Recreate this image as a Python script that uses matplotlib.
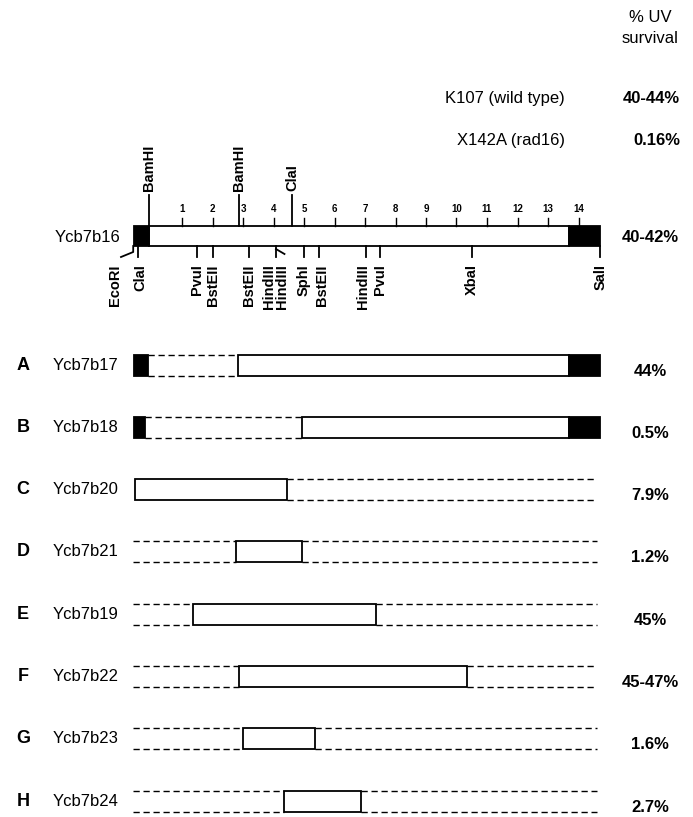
import matplotlib
matplotlib.use("Agg")
import matplotlib.pyplot as plt
from matplotlib.patches import Rectangle

plt.rcParams["font.family"] = ["Liberation Sans", "DejaVu Sans"]

# --- data -------------------------------------------------------------------
SCALE_KB = list(range(1, 15))

SITES_ABOVE = ["BamHI", "BamHI", "ClaI"]
SITES_ABOVE_KB = [-0.07, 2.87, 4.61]

SITES_BELOW = ["EcoRI", "ClaI", "PvuI", "BstEII", "BstEII", "HindIII", "HindIII",
               "SphI", "BstEII", "HindIII", "PvuI", "XbaI", "SalI"]
SITES_BELOW_KB = [-0.6, -0.44, 1.5, 2.0, 3.2, 4.08, 4.08,
                  5.0, 5.49, 7.03, 7.49, 10.5, 14.72]

VECTOR_LEFT = (-0.57, -0.07)
VECTOR_RIGHT = (13.69, 14.72)

LETTERS = ["A", "B", "C", "D", "E", "F", "G", "H"]
NAMES = ["Ycb7b17", "Ycb7b18", "Ycb7b20", "Ycb7b21",
         "Ycb7b19", "Ycb7b22", "Ycb7b23", "Ycb7b24"]
INSERT_START = [2.84, 4.93, -0.54, 2.77, 1.36, 2.87, 3.0, 4.34]
INSERT_END = [13.69, 13.69, 4.44, 4.93, 7.36, 10.34, 5.36, 6.87]
VECTOR_LEFT_END = [-0.1, -0.2, None, None, None, None, None, None]
SURVIVAL = ["44%", "0.5%", "7.9%", "1.2%", "45%", "45-47%", "1.6%", "2.7%"]

STRAINS = ["K107 (wild type)", "X142A (rad16)"]
STRAIN_SURVIVAL = ["40-44%", "0.16%"]
MAP_SURVIVAL = "40-42%"

# --- layout (pixels) --------------------------------------------------------
W, H = 693, 817
PX0, PX_PER_KB = 151.5, 30.5


def kb(px):
    return (px - PX0) / PX_PER_KB


MAP_TOP, MAP_BOT = 226, 246
ROW0, ROW_STEP, HALF = 365, 62.3, 10.5
DASH_START, DASH_END = -0.6, 14.6
DASH = (0, (4.5, 2.7))
LW = 1.3
SITE_FS = 10.5

fig = plt.figure(figsize=(W / 100, H / 100), dpi=100)
ax = fig.add_axes([0, 0, 1, 1])
ax.set_xlim(kb(0), kb(W))
ax.set_ylim(H, 0)
ax.axis("off")

# header
ax.text(kb(650), 17, "% UV", ha="center", va="center", fontsize=12)
ax.text(kb(650), 38, "survival", ha="center", va="center", fontsize=12)
for i, (s, v) in enumerate(zip(STRAINS, STRAIN_SURVIVAL)):
    y = 98 + 42 * i
    ax.text(kb(565), y, s, ha="right", va="center", fontsize=12)
    ax.text(kb(680), y, v, ha="right", va="center", fontsize=12, fontweight="bold")

# ── Ycb7b16 map ─────────────────────────────────────────────────────────────
ax.add_patch(Rectangle((VECTOR_LEFT[1], MAP_TOP), VECTOR_RIGHT[0] - VECTOR_LEFT[1],
                       MAP_BOT - MAP_TOP, facecolor="white", edgecolor="black", lw=LW))
for a, b in (VECTOR_LEFT, VECTOR_RIGHT):
    ax.add_patch(Rectangle((a, MAP_TOP), b - a, MAP_BOT - MAP_TOP,
                           facecolor="black", edgecolor="black", lw=LW))
ax.text(kb(55), 237, "Ycb7b16", ha="left", va="center", fontsize=12)
ax.text(kb(679), 237, MAP_SURVIVAL, ha="right", va="center", fontsize=12, fontweight="bold")

for t in SCALE_KB:
    ax.plot([t, t], [MAP_TOP - 8, MAP_TOP], color="black", lw=1.0)
    ax.text(t, MAP_TOP - 17, str(t), ha="center", va="center", fontsize=7, fontweight="bold")

for name, pos in zip(SITES_ABOVE, SITES_ABOVE_KB):
    ax.plot([pos, pos], [195, MAP_TOP], color="black", lw=LW)
    ax.text(pos, 191, name, rotation=90, ha="center", va="bottom",
            fontsize=SITE_FS, fontweight="bold")

label_shift = {0: -0.6, 1: 0.08, 5: -0.24, 6: 0.2, 8: 0.1, 9: -0.1}
for i, (name, pos) in enumerate(zip(SITES_BELOW, SITES_BELOW_KB)):
    if i == 0:
        ax.plot([pos, pos, pos - 0.4], [MAP_BOT, 252, 257], color="black", lw=LW)
    elif i == 6:
        ax.plot([pos, pos + 0.28], [249, 254], color="black", lw=LW)
    else:
        ax.plot([pos, pos], [MAP_BOT, 257], color="black", lw=LW)
    ax.text(pos + label_shift.get(i, 0), 264, name, rotation=90, ha="center", va="top",
            fontsize=SITE_FS, fontweight="bold")

# ── deletion constructs ─────────────────────────────────────────────────────
for i in range(len(NAMES)):
    yc = ROW0 + ROW_STEP * i
    top, bot = yc - HALF, yc + HALF
    ax.text(kb(23), yc, LETTERS[i], ha="center", va="center", fontsize=13, fontweight="bold")
    ax.text(kb(53), yc, NAMES[i], ha="left", va="center", fontsize=12)
    ax.text(kb(650), yc + 6, SURVIVAL[i], ha="center", va="center",
            fontsize=12, fontweight="bold")

    s, e = INSERT_START[i], INSERT_END[i]
    ax.add_patch(Rectangle((s, top), e - s, bot - top, facecolor="white",
                           edgecolor="black", lw=LW))
    if VECTOR_LEFT_END[i] is not None:
        vl = VECTOR_LEFT_END[i]
        ax.add_patch(Rectangle((VECTOR_LEFT[0], top), vl - VECTOR_LEFT[0], bot - top,
                               facecolor="black", edgecolor="black", lw=LW))
        ax.add_patch(Rectangle((VECTOR_RIGHT[0], top), VECTOR_RIGHT[1] - VECTOR_RIGHT[0],
                               bot - top, facecolor="black", edgecolor="black", lw=LW))
        left_from = vl
    else:
        left_from = DASH_START
    if s - left_from > 0.2:
        for y in (top, bot):
            ax.plot([left_from, s], [y, y], color="black", lw=1.0, linestyle=DASH)
    if DASH_END - e > 0.2 and VECTOR_LEFT_END[i] is None:
        for y in (top, bot):
            ax.plot([e, DASH_END], [y, y], color="black", lw=1.0, linestyle=DASH)

fig.savefig("out.png", dpi=100, facecolor="white")
